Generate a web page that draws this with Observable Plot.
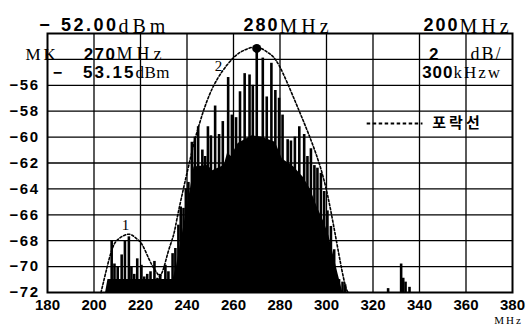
<!DOCTYPE html>
<html><head><meta charset="utf-8">
<script src="https://cdn.jsdelivr.net/npm/d3@7"></script>
<script src="https://cdn.jsdelivr.net/npm/@observablehq/plot@0.6"></script>
<style>
body{margin:0;background:#fff}
#chart{width:526px;height:326px;overflow:hidden}
</style>
</head><body><div id="chart"></div>
<script>
// axis ticks
const freqTicks = [180, 200, 220, 240, 260, 280, 300, 320, 340, 360, 380];
const levelTicks = [-56, -58, -60, -62, -64, -66, -68, -70, -72];
const gridFreq = [200, 220, 240, 260, 280, 300, 320, 340, 360];
const gridLevel = [-54, -56, -58, -60, -62, -64, -66, -68, -70];
const freqDomain = [180, 380];
const levelDomain = [-72, -52];

// spectral lines (MHz, dBm)
const spikeFreq = [207.6, 208.8, 210.2, 211.9, 213.3, 215.0, 216.1, 217.3, 218.6, 220.4,
  221.6, 222.9, 224.3, 226.0, 227.3, 228.5, 230.7, 232.0, 233.8, 235.0,
  236.3, 237.3, 238.5, 239.5, 240.6, 242.1, 243.4, 244.8, 246.6, 247.8,
  249.0, 250.3, 252.1, 253.8, 255.4, 257.7, 259.3, 261.1, 262.8, 264.8,
  266.9, 268.3, 270.0, 272.6, 274.3, 276.3, 278.0, 279.6, 281.1, 283.3,
  284.7, 286.4, 288.3, 290.4, 291.8, 293.3, 294.8, 296.1, 297.6, 299.0,
  300.4, 301.9, 303.3, 305.4, 306.9, 308.0, 326.5, 332.1, 333.0, 334.0, 335.7];
const spikeLevel = [-68.0, -69.8, -70.0, -69.1, -68.0, -67.7, -70.0, -70.6, -69.4, -69.9,
  -70.8, -70.6, -70.4, -69.6, -70.9, -70.6, -69.9, -70.4, -69.0, -68.6,
  -66.8, -65.4, -65.5, -64.0, -63.5, -60.4, -60.0, -59.2, -61.0, -61.5,
  -59.2, -59.9, -57.6, -59.8, -58.8, -55.4, -58.3, -58.5, -56.5, -55.1,
  -55.2, -56.0, -53.15, -53.9, -56.9, -54.3, -56.4, -57.0, -58.3, -60.2,
  -60.3, -60.0, -59.2, -59.8, -61.5, -60.9, -62.2, -62.4, -62.8, -64.2,
  -65.7, -66.9, -68.7, -71.0, -71.2, -71.4, -71.7, -69.8, -70.9, -71.2, -71.6];

// dense (unresolved) spectrum floor
const floorFreq = [205, 206, 234, 235.5, 237, 238.5, 240, 241.5, 243, 249, 251, 256, 257.5, 259, 262, 268, 272, 278, 281, 286, 290, 293, 296, 299, 301, 303, 305, 307];
const floorLevel = [-72, -71, -71, -70, -68.5, -67, -65.5, -64, -62.3, -62.2, -62.6, -62.2, -61.2, -61.5, -60.5, -59.9, -60.0, -60.4, -61.7, -62.3, -63.1, -64, -65.4, -66.6, -67.6, -69.1, -70.6, -72];

// envelopes
const env1Freq = [203, 205, 207.9, 211, 215, 218, 220.7, 223.6, 226, 228.3];
const env1Level = [-72, -70.5, -68.6, -67.8, -67.5, -67.8, -68.3, -69.4, -70.2, -70.8];
const env2Freq = [228.3, 230, 232, 234.3, 236.5, 241.5, 244.8, 251, 259.3, 264.5, 270, 275, 279.7, 286.9, 292.6, 298.3, 302.6, 306, 308.3, 309.5];
const env2Level = [-70.8, -70.1, -68.8, -67.5, -65.6, -61.6, -59.3, -56.2, -54.0, -53.3, -53.05, -53.5, -54.5, -57.4, -59.9, -62.9, -66.4, -69.7, -71.6, -72];

// marker & labels
const markerFreq = [270];
const markerLevel = [-53.15];
const envLabels = ["1", "2"];
const envLabelFreq = [213.5, 253.5];
const envLabelLevel = [-66.8, -54.5];
const legendLabel = ["포락선"];
const legendFreq = [317.5, 341.5, 345.5];
const legendLevel = [-58.95];

// header readouts
const refNum = "52.00", refUnit = "dBm";
const centerNum = "280", centerUnit = "MHz";
const spanNum = "200", spanUnit = "MHz";
const mkTag = "MK", mkFreqNum = "270", mkFreqUnit = "MHz";
const mkLevelNum = "53.15", mkLevelUnit = "dBm";
const scaleNum = "2", scaleUnit = "dB/";
const rbwNum = "300", rbwUnit = "kHzw";
const axisUnit = "MHz";

const spikes = spikeFreq.map((f, i) => ({f, db: spikeLevel[i]}));
const floor = floorFreq.map((f, i) => ({f, db: floorLevel[i]}));
const env1 = env1Freq.map((f, i) => ({f, db: env1Level[i]}));
const env2 = env2Freq.map((f, i) => ({f, db: env2Level[i]}));
const markers = markerFreq.map((f, i) => ({f, db: markerLevel[i]}));
const labels = envLabels.map((t, i) => ({t, f: envLabelFreq[i], db: envLabelLevel[i]}));
const base = levelDomain[0];

const SANS = "Liberation Sans", SERIF = "Liberation Serif";
// letter spacing per text, applied after rendering
const spacing = new Map();
const num = (s, anchor, dx, dy, ta, size = 18, ls = 2) => { spacing.set(s + "|" + size, ls); return Plot.text([s], {text: d => d, frameAnchor: anchor, dx, dy, textAnchor: ta, fontFamily: SANS, fontWeight: "bold", fontSize: size, fill: "#000"}); };
const unit = (s, anchor, dx, dy, size = 20, ls = 4) => { spacing.set(s + "|" + size, ls); return Plot.text([s], {text: d => d, frameAnchor: anchor, dx, dy, textAnchor: "start", fontFamily: SERIF, fontWeight: "normal", fontSize: size, fill: "#000"}); };
const minus = (anchor, dx, dy, size = 18) => Plot.text(["−"], {text: d => d, frameAnchor: anchor, dx, dy, textAnchor: "middle", fontFamily: SANS, fontWeight: "bold", fontSize: size, fill: "#000"});

const chart = Plot.plot({
  width: 526, height: 326,
  marginLeft: 47, marginRight: 14, marginTop: 33, marginBottom: 34,
  style: {fontFamily: SANS, fontWeight: "bold", fontSize: "15px", color: "#000", background: "#fff"},
  x: {domain: freqDomain, ticks: freqTicks, tickSize: 0, tickPadding: 7, label: null, tickFormat: d => String(d)},
  y: {domain: levelDomain, ticks: levelTicks, tickSize: 0, tickPadding: 8, label: null, tickFormat: d => "−" + Math.abs(d)},
  marks: [
    Plot.ruleX(gridFreq, {stroke: "#000", strokeWidth: 1.3}),
    Plot.ruleY(gridLevel, {stroke: "#000", strokeWidth: 1.3}),
    Plot.areaY(floor, {x: "f", y1: base, y2: "db", fill: "#000"}),
    Plot.ruleX(spikes, {x: "f", y1: base, y2: "db", stroke: "#000", strokeWidth: 2.6}),
    Plot.line(env1, {x: "f", y: "db", curve: "natural", stroke: "#000", strokeWidth: 1.6, strokeDasharray: "2.2,2"}),
    Plot.line(env2, {x: "f", y: "db", curve: "natural", stroke: "#000", strokeWidth: 1.6, strokeDasharray: "2.2,2"}),
    Plot.dot(markers, {x: "f", y: "db", r: 4.5, fill: "#000"}),
    Plot.text(labels, {x: "f", y: "db", text: "t", fontFamily: SERIF, fontWeight: "normal", fontSize: 15, fill: "#000"}),
    Plot.ruleY(legendLevel, {x1: legendFreq[0], x2: legendFreq[1], y: d => d, stroke: "#000", strokeWidth: 2, strokeDasharray: "3.5,2.5"}),
    Plot.text(legendLabel, {x: legendFreq[2], y: legendLevel[0], text: d => d, textAnchor: "start", fontFamily: "Noto Sans CJK KR", fontWeight: "bold", fontSize: 15, fill: "#000"}),
    Plot.frame({stroke: "#000", strokeWidth: 2}),
    // header row 1
    minus("top-left", -3, -15), num(refNum, "top-left", 71, -15, "end", 18, 2.5), unit(refUnit, "top-left", 71, -15, 20, 4),
    num(centerNum, "top-left", 232, -15, "end", 18, 2), unit(centerUnit, "top-left", 232, -15, 20, 4),
    num(spanNum, "top-right", -53, -15, "end", 18, 2), unit(spanUnit, "top-right", -53, -15, 20, 4),
    // row 2
    unit(mkTag, "top-left", -22, 14, 17, 3), num(mkFreqNum, "top-left", 69, 14, "end", 17, 1.5), unit(mkFreqUnit, "top-left", 69, 14, 18, 4),
    num(scaleNum, "top-right", -74, 14, "end", 17, 0), unit(scaleUnit, "top-right", -42, 14, 18, 2),
    // row 3
    minus("top-left", 10, 33, 16), num(mkLevelNum, "top-left", 88, 32, "end", 17, 2), unit(mkLevelUnit, "top-left", 88, 32, 17, 0.5),
    num(rbwNum, "top-right", -59, 32, "end", 17, 1), unit(rbwUnit, "top-right", -59, 32, 17, 2),
    // axis unit
    Plot.text([axisUnit], {text: d => d, frameAnchor: "bottom-right", dx: -4, dy: 31, textAnchor: "middle", fontFamily: SERIF, fontWeight: "normal", fontSize: 11, fill: "#000"})
  ]
});
document.getElementById("chart").appendChild(chart);

// apply letter spacing to header readouts, tick labels and legend
chart.querySelectorAll("text").forEach(t => {
  const s = t.textContent;
  const g = t.closest("[font-size]");
  const size = g ? +g.getAttribute("font-size") : NaN;
  const fs = t.getAttribute("font-size") ? +t.getAttribute("font-size") : size;
  const key = s + "|" + fs;
  if (spacing.has(key)) t.style.letterSpacing = spacing.get(key) + "px";
  else if (s === legendLabel[0]) t.style.letterSpacing = "3px";
  else if (s === axisUnit && fs === 11) t.style.letterSpacing = "2px";
  else if (/^−\d\d$/.test(s)) t.style.letterSpacing = "1.5px";
});
</script>
</body></html>
